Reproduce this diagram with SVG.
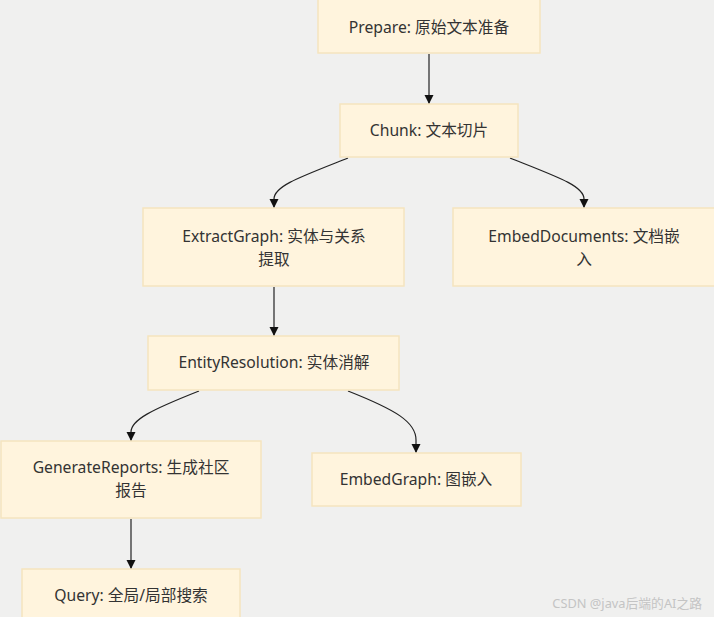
<svg xmlns="http://www.w3.org/2000/svg" width="714" height="617" viewBox="0 0 714 617">
<style>
.node rect{fill:#fff4dd;stroke:#f5e4bf;stroke-width:1.5}
.node text{font-family:"Noto Sans","Noto Sans CJK SC",sans-serif;font-size:15.7px;fill:#333;text-anchor:middle;dominant-baseline:central}
.edge{fill:none;stroke:#222;stroke-width:1.2;marker-end:url(#arr)}
.wm{font-family:"Noto Sans","Noto Sans CJK SC",sans-serif;font-size:12.8px;fill:#c4c4c4}
</style>
<defs>
<marker id="arr" markerWidth="10" markerHeight="10" refX="9" refY="5" orient="auto" markerUnits="userSpaceOnUse">
<path d="M0,0.5 L9,5 L0,9.5 Z" fill="#111"/>
</marker>
</defs>
<rect width="714" height="617" fill="#f0f0ef"/>
<g id="connectors">
<path class="edge" d="M429,54 L429,104"/>
<path class="edge" d="M348,158 C300,177 274,186 274,199 L274,208"/>
<path class="edge" d="M510,158 C558,177 584,186 584,199 L584,208"/>
<path class="edge" d="M274,287 L274,336"/>
<path class="edge" d="M199,391 C151,410 131,420 131,432 L131,441"/>
<path class="edge" d="M348,391 C396,410 416,422 416,440 L416,453"/>
<path class="edge" d="M131,519 L131,569"/>
</g>
<g id="prepare" class="node"><rect x="318" y="-1" width="222" height="54"/><text x="429" y="27">Prepare: 原始文本准备</text></g>
<g id="chunk" class="node"><rect x="340" y="104" width="178" height="53"/><text x="429" y="130">Chunk: 文本切片</text></g>
<g id="extractgraph" class="node"><rect x="143" y="208" width="261" height="78"/><text x="274" y="236">ExtractGraph: 实体与关系</text><text x="274" y="259">提取</text></g>
<g id="embeddocuments" class="node"><rect x="453" y="208" width="263" height="78"/><text x="584" y="236">EmbedDocuments: 文档嵌</text><text x="584" y="259">入</text></g>
<g id="entityresolution" class="node"><rect x="148" y="336" width="251" height="54"/><text x="274" y="362">EntityResolution: 实体消解</text></g>
<g id="generatereports" class="node"><rect x="1" y="441" width="260" height="77"/><text x="131" y="467">GenerateReports: 生成社区</text><text x="131" y="490">报告</text></g>
<g id="embedgraph" class="node"><rect x="312" y="453" width="209" height="53"/><text x="416" y="479">EmbedGraph: 图嵌入</text></g>
<g id="query" class="node"><rect x="22" y="569" width="218" height="54"/><text x="131" y="595">Query: 全局/局部搜索</text></g>
<text class="wm" x="702" y="608" text-anchor="end">CSDN @java后端的AI之路</text>
</svg>
